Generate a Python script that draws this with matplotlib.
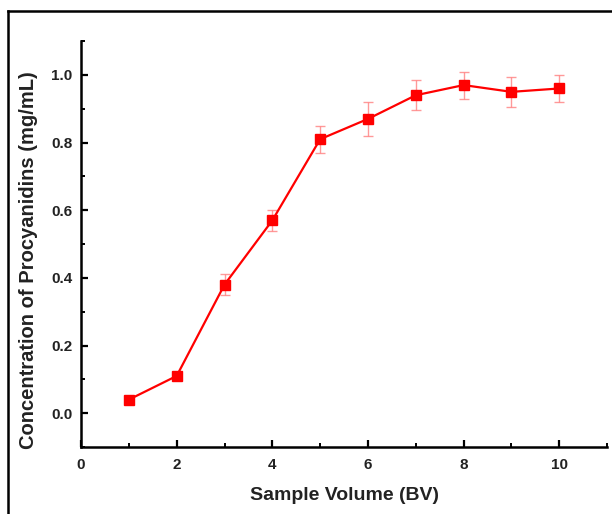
import matplotlib
matplotlib.use("Agg")
import matplotlib.pyplot as plt
from matplotlib.ticker import MultipleLocator
from matplotlib.lines import Line2D

# data
sample_volume = [1, 2, 3, 4, 5, 6, 7, 8, 9, 10]
concentration = [0.04, 0.11, 0.38, 0.57, 0.81, 0.87, 0.94, 0.97, 0.95, 0.96]
errors = [0.005, 0.012, 0.03, 0.03, 0.04, 0.05, 0.045, 0.04, 0.045, 0.04]

plt.rcParams['font.family'] = ['Liberation Sans', 'DejaVu Sans']
plt.rcParams['font.weight'] = 'bold'

fig = plt.figure(figsize=(6.12, 5.14), dpi=100)
ax = fig.add_axes([0.1324, 0.1304, 0.8596, 0.7896])

ax.errorbar(sample_volume, concentration, yerr=errors, fmt='none',
            ecolor='#ff8080', elinewidth=1.0, capsize=3.5, capthick=1.0,
            alpha=0.8, zorder=2)
ax.plot(sample_volume, concentration, color='red', lw=1.6, marker='s',
        markersize=6.5, zorder=3)

ax.set_xlim(0, 11)
ax.set_ylim(-0.1, 1.1)
ax.set_xticks([0, 2, 4, 6, 8, 10])
ax.set_yticks([0.0, 0.2, 0.4, 0.6, 0.8, 1.0])
ax.set_yticklabels(['0.0', '0.2', '0.4', '0.6', '0.8', '1.0'])
ax.xaxis.set_minor_locator(MultipleLocator(1))
ax.yaxis.set_minor_locator(MultipleLocator(0.1))

for side in ['top', 'right']:
    ax.spines[side].set_visible(False)
for side in ['left', 'bottom']:
    ax.spines[side].set_linewidth(1.8)

ax.tick_params(which='major', direction='in', length=5, width=1.6,
               labelsize=11, pad=6, labelcolor='#222222')
ax.tick_params(axis='x', which='major', pad=8)
ax.tick_params(which='minor', direction='in', length=3, width=1.4)
for lbl in ax.get_xticklabels() + ax.get_yticklabels():
    lbl.set_fontweight('bold')

ax.set_xlabel('Sample Volume (BV)', fontsize=14, fontweight='bold',
              color='#222222', labelpad=11)
ax.set_ylabel('Concentration of Procyanidins (mg/mL)', fontsize=14.5,
              fontweight='bold', color='#222222', labelpad=10)
ax.yaxis.label.set_y(0.46)

# outer frame (left and top edges visible in the reference)
fig.add_artist(Line2D([8 / 612, 8 / 612], [0, 1 - 11 / 514],
                      transform=fig.transFigure, color='black', lw=1.8))
fig.add_artist(Line2D([8 / 612, 1], [1 - 11 / 514, 1 - 11 / 514],
                      transform=fig.transFigure, color='black', lw=1.8))

fig.savefig('out.png', dpi=100)
